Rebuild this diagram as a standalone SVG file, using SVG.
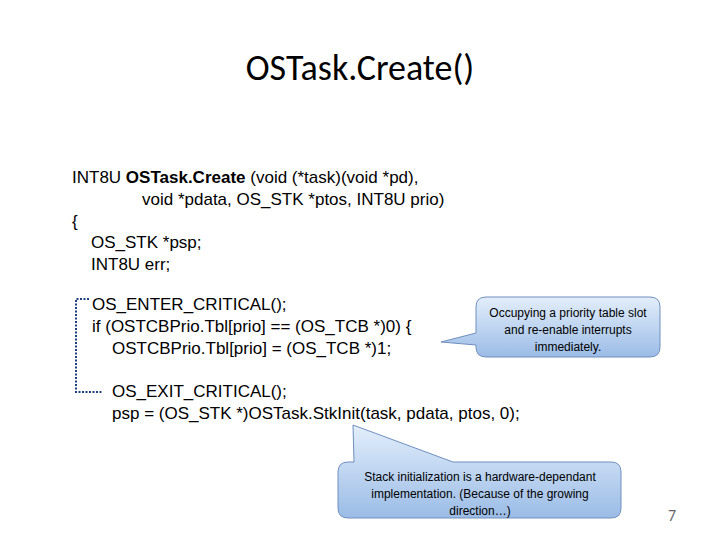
<svg xmlns="http://www.w3.org/2000/svg" width="720" height="540" viewBox="0 0 720 540">
<defs>
<linearGradient id="g" x1="0" y1="0" x2="0" y2="1"><stop offset="0" stop-color="#e3eefb"/><stop offset="1" stop-color="#9bbce6"/></linearGradient>
<style>
.code{font-family:"Liberation Sans",Arial,sans-serif;font-size:17px;fill:#000}
.call{font-family:"Liberation Sans Narrow","Liberation Sans",sans-serif;font-size:12px;fill:#000;text-anchor:middle}
.bub{fill:url(#g);stroke:#6f8fbf;stroke-width:1}
</style>
</defs>
<rect width="720" height="540" fill="#fff"/>
<text x="360" y="80" text-anchor="middle" font-family="Carlito,'Open Sans',sans-serif" font-size="36">OSTask.Create()</text>
<g id="code">
<text class="code" x="72" y="183">INT8U  <tspan font-weight="bold">OSTask.Create</tspan> (void (*task)(void *pd),</text>
<text class="code" x="142" y="205">void *pdata, OS_STK *ptos, INT8U prio)</text>
<text class="code" x="72" y="227">{</text>
<text class="code" x="91" y="248">OS_STK    *psp;</text>
<text class="code" x="91" y="270">INT8U       err;</text>
<text class="code" x="92" y="310">OS_ENTER_CRITICAL();</text>
<text class="code" x="92" y="332">if (OSTCBPrio.Tbl[prio] == (OS_TCB *)0) {</text>
<text class="code" x="112" y="354">OSTCBPrio.Tbl[prio] = (OS_TCB *)1;</text>
<text class="code" x="112" y="397">OS_EXIT_CRITICAL();</text>
<text class="code" x="112" y="419">psp = (OS_STK *)OSTask.StkInit(task, pdata, ptos, 0);</text>
</g>
<g id="connectors">
<path d="M89,299 H76 V392 H103" fill="none" stroke="#1f3f7f" stroke-width="2" stroke-dasharray="2,1.5"/>
</g>
<g id="callout1">
<path class="bub" d="M486,297 H650 Q660,297 660,307 V347 Q660,357 650,357 H486 Q476,357 476,347 V345 L441,342 L476,333 V307 Q476,297 486,297 Z"/>
<text class="call" x="568" y="317">Occupying a priority table slot</text>
<text class="call" x="568" y="334">and re-enable interrupts</text>
<text class="call" x="568" y="351">immediately.</text>
</g>
<g id="callout2">
<path class="bub" d="M348,462 H354 L353,425 L453,462 H611 Q621,462 621,472 V508 Q621,518 611,518 H348 Q338,518 338,508 V472 Q338,462 348,462 Z"/>
<text class="call" x="480" y="481">Stack initialization is a hardware-dependant</text>
<text class="call" x="480" y="498">implementation. (Because of the growing</text>
<text class="call" x="480" y="515">direction…)</text>
</g>
<text x="672" y="521" text-anchor="middle" font-family="Carlito,'Open Sans',sans-serif" font-size="16" fill="#666">7</text>
</svg>
